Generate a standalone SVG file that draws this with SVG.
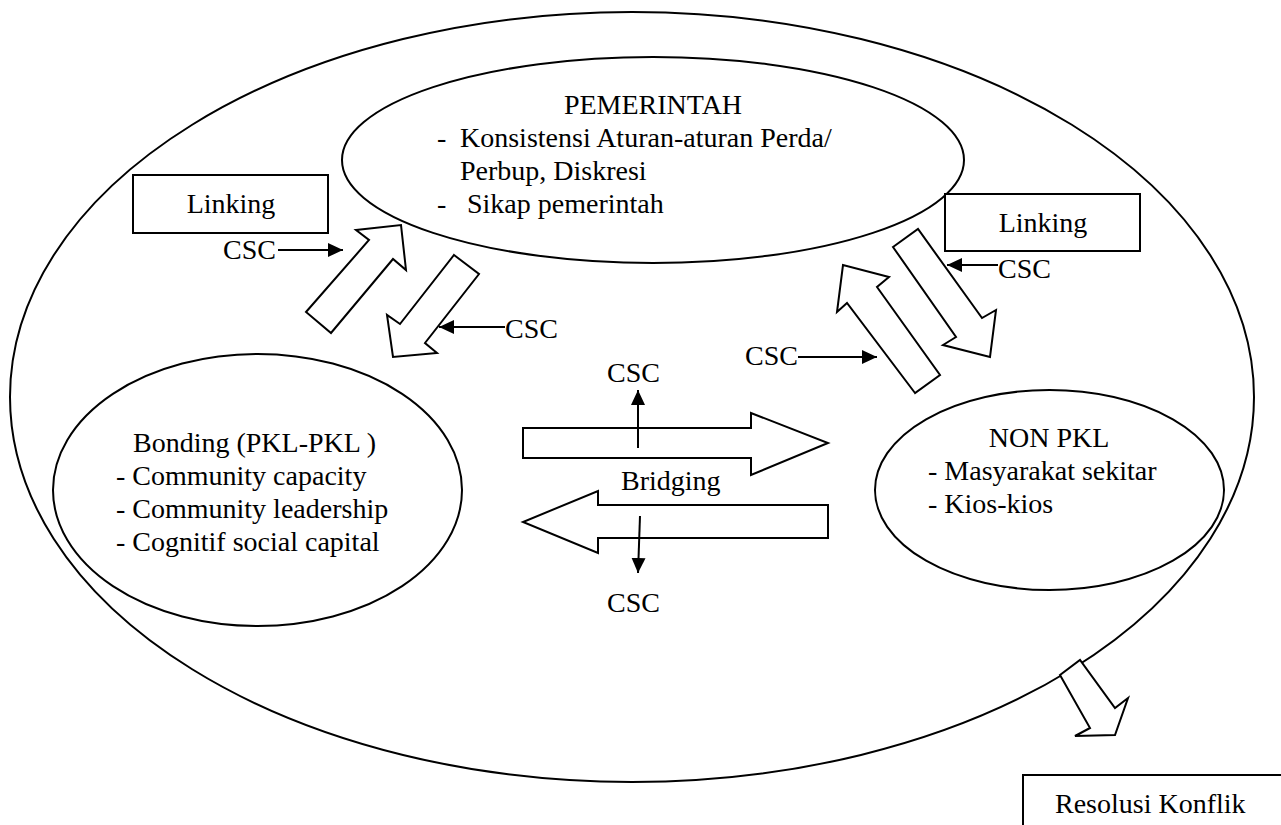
<svg xmlns="http://www.w3.org/2000/svg" width="1281" height="825" viewBox="0 0 1281 825">
  <style>
    text { font-family: "Liberation Serif", "Times New Roman", serif; font-size: 28px; fill: #000; }
    .outline { fill: none; stroke: #000; stroke-width: 2; }
    .box { fill: #fff; stroke: #000; stroke-width: 2; }
    .block { fill: #fff; stroke: #000; stroke-width: 2; stroke-linejoin: miter; }
    .csc { fill: none; stroke: #000; stroke-width: 2; marker-end: url(#head); }
  </style>
  <defs>
    <marker id="head" markerUnits="userSpaceOnUse" markerWidth="15" markerHeight="14" refX="15" refY="7" orient="auto">
      <path d="M0,0 L15,7 L0,14 Z" fill="#000"/>
    </marker>
  </defs>

  <rect width="1281" height="825" fill="#fff"/>

  <!-- enclosing context -->
  <g id="context">
    <ellipse class="outline" cx="632" cy="397" rx="622" ry="385"/>
  </g>

  <g id="pemerintah">
    <ellipse class="outline" cx="653" cy="160" rx="311" ry="103"/>
    <text x="653" y="114" text-anchor="middle">PEMERINTAH</text>
    <text y="147"><tspan x="437">-</tspan><tspan x="460">Konsistensi Aturan-aturan Perda/</tspan></text>
    <text x="460" y="180">Perbup, Diskresi</text>
    <text y="213"><tspan x="437">-</tspan><tspan x="467">Sikap pemerintah</tspan></text>
  </g>

  <g id="linking-left">
    <rect class="box" x="133" y="175" width="195" height="58"/>
    <text x="231" y="213" text-anchor="middle">Linking</text>
  </g>

  <g id="linking-right">
    <rect class="box" x="945" y="194" width="195" height="57"/>
    <text x="1043" y="232" text-anchor="middle">Linking</text>
  </g>

  <g id="bonding">
    <ellipse class="outline" cx="257.5" cy="490" rx="204.5" ry="136"/>
    <text x="133" y="452">Bonding (PKL-PKL )</text>
    <text x="116" y="485">- Community capacity</text>
    <text x="116" y="518">- Community leadership</text>
    <text x="116" y="551">- Cognitif social capital</text>
  </g>

  <g id="non-pkl">
    <ellipse class="outline" cx="1049.5" cy="490" rx="174.5" ry="100"/>
    <text x="1049" y="447" text-anchor="middle">NON PKL</text>
    <text x="928" y="480">- Masyarakat sekitar</text>
    <text x="928" y="513">- Kios-kios</text>
  </g>

  <g id="resolusi-konflik">
    <rect class="box" x="1023" y="775" width="300" height="100"/>
    <text x="1055" y="813">Resolusi Konflik</text>
  </g>

  <!-- connectors: block arrows and CSC pointers -->
  <g id="connectors">
    <!-- linking, left pair -->
    <polygon class="block" points="306,312 369,240 356,230 401,225 406,270 393,259 331,333"/>
    <polygon class="block" points="454,255 479,274 425,343 437,353 393,357 387,315 400,324"/>
    <!-- linking, right pair -->
    <polygon class="block" points="915,393 847,303 837,312 843,265 889,277 877,287 940,375"/>
    <polygon class="block" points="893,247 918,229 982,318 996,310 990,357 943,345 956,337"/>
    <!-- bridging pair -->
    <polygon class="block" points="523,428 751,428 751,413 828,443 751,475 751,458 523,458"/>
    <polygon class="block" points="828,505 598,505 598,491 523,522 598,553 598,538 828,538"/>
    <!-- towards conflict resolution -->
    <polygon class="block" points="1060,675 1090,728 1075,736 1115,735 1128,698 1115,708 1080,660"/>

    <!-- CSC pointers -->
    <line class="csc" x1="278" y1="250" x2="343" y2="250"/>
    <line class="csc" x1="505" y1="327" x2="439" y2="327"/>
    <line class="csc" x1="998" y1="265" x2="947" y2="265"/>
    <line class="csc" x1="798" y1="357" x2="877" y2="357"/>
    <line class="csc" x1="638" y1="448" x2="638" y2="390"/>
    <line class="csc" x1="640" y1="516" x2="638" y2="573"/>

    <text x="223" y="259">CSC</text>
    <text x="505" y="338">CSC</text>
    <text x="998" y="278">CSC</text>
    <text x="745" y="365">CSC</text>
    <text x="607" y="382">CSC</text>
    <text x="607" y="612">CSC</text>
    <text x="621" y="490">Bridging</text>
  </g>
</svg>
